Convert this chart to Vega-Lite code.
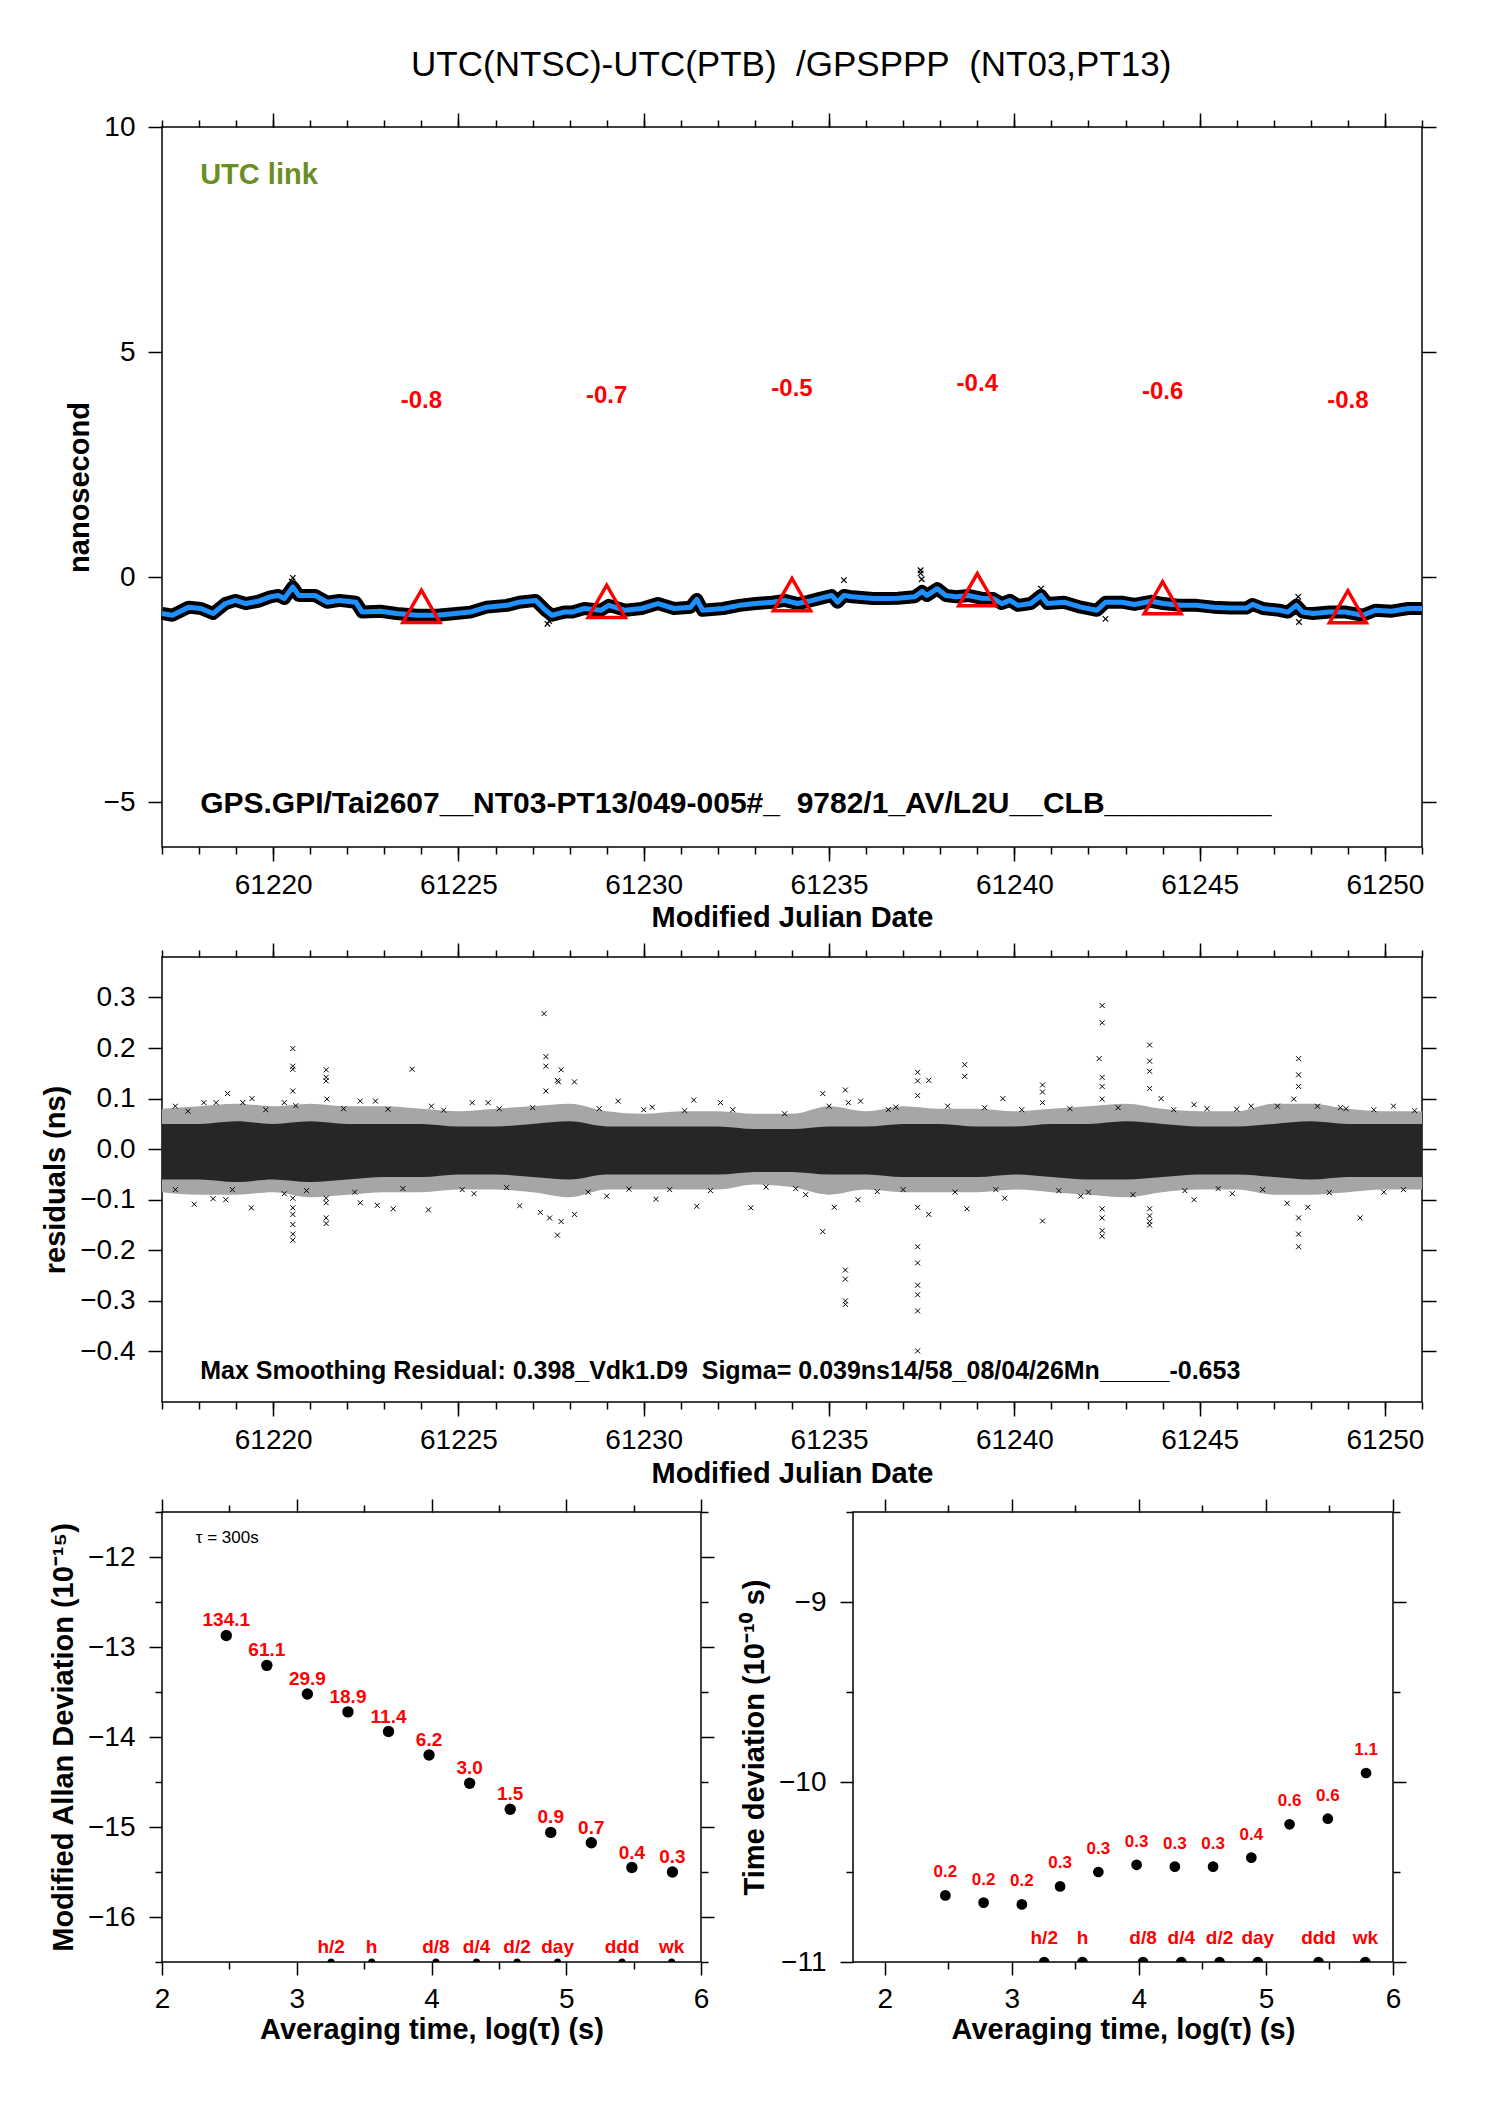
{
  "$schema": "https://vega.github.io/schema/vega-lite/v6.json",
  "padding": {"left": 40, "top": 47, "right": 5, "bottom": 5},
  "title": {"text": "UTC(NTSC)-UTC(PTB)\u00a0\u00a0/GPSPPP\u00a0\u00a0(NT03,PT13)", "fontSize": 35, "fontWeight": "normal", "font": "Liberation Sans", "color": "black", "anchor": "middle", "dx": 52, "offset": 29},
  "config": {
    "font": "Liberation Sans",
    "view": {"stroke": "black", "strokeWidth": 1.5},
    "axis": {"domain": false, "grid": false, "labelFont": "Liberation Sans", "labelFontSize": 28, "labelColor": "black", "labelFlush": false, "labelOverlap": false, "tickColor": "black", "tickWidth": 1.5, "titleFont": "Liberation Sans", "titleFontSize": 29, "titleFontWeight": "bold", "titleColor": "black"}
  },
  "datasets": {
    "smooth": [
      {"t": 61217.0, "v": -0.81}, {"t": 61217.28, "v": -0.85}, {"t": 61217.72, "v": -0.67}, {"t": 61218.05, "v": -0.7},
      {"t": 61218.38, "v": -0.81}, {"t": 61218.71, "v": -0.59}, {"t": 61218.98, "v": -0.52}, {"t": 61219.26, "v": -0.59},
      {"t": 61219.59, "v": -0.54}, {"t": 61219.92, "v": -0.44}, {"t": 61220.14, "v": -0.41}, {"t": 61220.3, "v": -0.48},
      {"t": 61220.53, "v": -0.22}, {"t": 61220.69, "v": -0.41}, {"t": 61221.13, "v": -0.41}, {"t": 61221.46, "v": -0.56},
      {"t": 61221.79, "v": -0.52}, {"t": 61222.23, "v": -0.56}, {"t": 61222.4, "v": -0.78}, {"t": 61222.89, "v": -0.76},
      {"t": 61223.33, "v": -0.81}, {"t": 61223.88, "v": -0.85}, {"t": 61224.43, "v": -0.85}, {"t": 61225.32, "v": -0.78},
      {"t": 61225.76, "v": -0.67}, {"t": 61226.31, "v": -0.63}, {"t": 61226.64, "v": -0.56}, {"t": 61227.08, "v": -0.52},
      {"t": 61227.35, "v": -0.74}, {"t": 61227.52, "v": -0.85}, {"t": 61227.85, "v": -0.78}, {"t": 61228.07, "v": -0.78},
      {"t": 61228.4, "v": -0.7}, {"t": 61228.84, "v": -0.74}, {"t": 61229.06, "v": -0.63}, {"t": 61229.5, "v": -0.74},
      {"t": 61229.94, "v": -0.7}, {"t": 61230.38, "v": -0.59}, {"t": 61230.82, "v": -0.7}, {"t": 61231.26, "v": -0.67},
      {"t": 61231.43, "v": -0.5}, {"t": 61231.59, "v": -0.74}, {"t": 61232.14, "v": -0.7}, {"t": 61232.58, "v": -0.63},
      {"t": 61233.02, "v": -0.59}, {"t": 61233.47, "v": -0.56}, {"t": 61233.8, "v": -0.52}, {"t": 61234.15, "v": -0.59},
      {"t": 61234.45, "v": -0.54}, {"t": 61234.73, "v": -0.48}, {"t": 61235.07, "v": -0.41}, {"t": 61235.23, "v": -0.56},
      {"t": 61235.4, "v": -0.41}, {"t": 61235.63, "v": -0.44}, {"t": 61236.19, "v": -0.48}, {"t": 61236.52, "v": -0.48},
      {"t": 61236.86, "v": -0.47}, {"t": 61237.31, "v": -0.44}, {"t": 61237.51, "v": -0.32}, {"t": 61237.64, "v": -0.41},
      {"t": 61237.92, "v": -0.26}, {"t": 61238.15, "v": -0.41}, {"t": 61238.43, "v": -0.44}, {"t": 61238.76, "v": -0.41},
      {"t": 61239.1, "v": -0.47}, {"t": 61239.43, "v": -0.48}, {"t": 61239.66, "v": -0.59}, {"t": 61239.88, "v": -0.52},
      {"t": 61240.1, "v": -0.63}, {"t": 61240.44, "v": -0.59}, {"t": 61240.72, "v": -0.41}, {"t": 61240.89, "v": -0.59},
      {"t": 61241.34, "v": -0.56}, {"t": 61241.79, "v": -0.67}, {"t": 61242.23, "v": -0.74}, {"t": 61242.46, "v": -0.56},
      {"t": 61242.9, "v": -0.56}, {"t": 61243.24, "v": -0.61}, {"t": 61243.69, "v": -0.54}, {"t": 61244.02, "v": -0.59},
      {"t": 61244.47, "v": -0.63}, {"t": 61244.92, "v": -0.63}, {"t": 61245.37, "v": -0.67}, {"t": 61245.82, "v": -0.69},
      {"t": 61246.26, "v": -0.69}, {"t": 61246.43, "v": -0.61}, {"t": 61246.71, "v": -0.7}, {"t": 61247.16, "v": -0.74},
      {"t": 61247.38, "v": -0.78}, {"t": 61247.61, "v": -0.63}, {"t": 61247.78, "v": -0.78}, {"t": 61248.06, "v": -0.81},
      {"t": 61248.5, "v": -0.78}, {"t": 61248.95, "v": -0.78}, {"t": 61249.4, "v": -0.85}, {"t": 61249.74, "v": -0.74},
      {"t": 61250.18, "v": -0.76}, {"t": 61250.63, "v": -0.7}, {"t": 61251.0, "v": -0.7}
    ],
    "raw": [
      {"t": 61220.53, "v": -0.02}, {"t": 61220.5, "v": -0.1}, {"t": 61227.4, "v": -1.04}, {"t": 61227.45, "v": -0.98},
      {"t": 61235.4, "v": -0.07}, {"t": 61237.47, "v": 0.15}, {"t": 61237.47, "v": 0.08}, {"t": 61237.5, "v": -0.05},
      {"t": 61242.46, "v": -0.93}, {"t": 61247.66, "v": -0.44}, {"t": 61247.68, "v": -1.0}, {"t": 61240.72, "v": -0.26}
    ],
    "tri": [
      {"t": 61224, "v": -0.77, "lab": "-0.8"}, {"t": 61229, "v": -0.66, "lab": "-0.7"}, {"t": 61234, "v": -0.51, "lab": "-0.5"},
      {"t": 61239, "v": -0.4, "lab": "-0.4"}, {"t": 61244, "v": -0.58, "lab": "-0.6"}, {"t": 61249, "v": -0.78, "lab": "-0.8"}
    ],
    "band": [
      {"t": 61217, "a": -0.06, "b": 0.05, "c": -0.085, "d": 0.08}, {"t": 61218, "a": -0.06, "b": 0.05, "c": -0.09, "d": 0.085},
      {"t": 61219, "a": -0.065, "b": 0.055, "c": -0.09, "d": 0.09}, {"t": 61220, "a": -0.06, "b": 0.05, "c": -0.085, "d": 0.085},
      {"t": 61221, "a": -0.065, "b": 0.055, "c": -0.095, "d": 0.09}, {"t": 61222, "a": -0.06, "b": 0.05, "c": -0.09, "d": 0.085},
      {"t": 61223, "a": -0.055, "b": 0.05, "c": -0.085, "d": 0.085}, {"t": 61224, "a": -0.055, "b": 0.05, "c": -0.085, "d": 0.08},
      {"t": 61225, "a": -0.05, "b": 0.045, "c": -0.08, "d": 0.075}, {"t": 61226, "a": -0.05, "b": 0.045, "c": -0.08, "d": 0.08},
      {"t": 61227, "a": -0.055, "b": 0.05, "c": -0.085, "d": 0.085}, {"t": 61228, "a": -0.06, "b": 0.055, "c": -0.095, "d": 0.09},
      {"t": 61229, "a": -0.05, "b": 0.045, "c": -0.08, "d": 0.075}, {"t": 61230, "a": -0.05, "b": 0.045, "c": -0.08, "d": 0.07},
      {"t": 61231, "a": -0.05, "b": 0.045, "c": -0.08, "d": 0.075}, {"t": 61232, "a": -0.05, "b": 0.045, "c": -0.08, "d": 0.075},
      {"t": 61233, "a": -0.045, "b": 0.04, "c": -0.07, "d": 0.07}, {"t": 61234, "a": -0.045, "b": 0.04, "c": -0.075, "d": 0.07},
      {"t": 61235, "a": -0.05, "b": 0.045, "c": -0.09, "d": 0.085}, {"t": 61236, "a": -0.05, "b": 0.045, "c": -0.08, "d": 0.075},
      {"t": 61237, "a": -0.055, "b": 0.05, "c": -0.085, "d": 0.085}, {"t": 61238, "a": -0.055, "b": 0.05, "c": -0.085, "d": 0.08},
      {"t": 61239, "a": -0.055, "b": 0.045, "c": -0.085, "d": 0.08}, {"t": 61240, "a": -0.05, "b": 0.045, "c": -0.08, "d": 0.075},
      {"t": 61241, "a": -0.055, "b": 0.05, "c": -0.085, "d": 0.08}, {"t": 61242, "a": -0.06, "b": 0.05, "c": -0.09, "d": 0.085},
      {"t": 61243, "a": -0.06, "b": 0.055, "c": -0.095, "d": 0.09}, {"t": 61244, "a": -0.055, "b": 0.05, "c": -0.085, "d": 0.08},
      {"t": 61245, "a": -0.05, "b": 0.045, "c": -0.08, "d": 0.075}, {"t": 61246, "a": -0.05, "b": 0.045, "c": -0.08, "d": 0.075},
      {"t": 61247, "a": -0.055, "b": 0.05, "c": -0.09, "d": 0.09}, {"t": 61248, "a": -0.06, "b": 0.055, "c": -0.09, "d": 0.09},
      {"t": 61249, "a": -0.055, "b": 0.05, "c": -0.085, "d": 0.08}, {"t": 61250, "a": -0.055, "b": 0.05, "c": -0.08, "d": 0.075},
      {"t": 61251, "a": -0.055, "b": 0.05, "c": -0.08, "d": 0.075}
    ],
    "resid": [
      {"t": 61217.36, "r": 0.085}, {"t": 61218.13, "r": 0.092}, {"t": 61218.46, "r": 0.092}, {"t": 61218.77, "r": 0.11},
      {"t": 61219.18, "r": 0.092}, {"t": 61219.43, "r": 0.1}, {"t": 61220.3, "r": 0.092}, {"t": 61220.53, "r": 0.199},
      {"t": 61220.53, "r": 0.164}, {"t": 61220.53, "r": 0.158}, {"t": 61220.53, "r": 0.115}, {"t": 61220.61, "r": 0.086},
      {"t": 61221.43, "r": 0.157}, {"t": 61221.43, "r": 0.142}, {"t": 61221.43, "r": 0.135}, {"t": 61221.45, "r": 0.099},
      {"t": 61222.35, "r": 0.095}, {"t": 61222.76, "r": 0.095}, {"t": 61223.75, "r": 0.158}, {"t": 61224.27, "r": 0.085},
      {"t": 61225.37, "r": 0.092}, {"t": 61225.8, "r": 0.092}, {"t": 61227.31, "r": 0.268}, {"t": 61227.36, "r": 0.183},
      {"t": 61227.36, "r": 0.164}, {"t": 61227.36, "r": 0.115}, {"t": 61227.67, "r": 0.136}, {"t": 61227.7, "r": 0.133},
      {"t": 61227.77, "r": 0.157}, {"t": 61228.13, "r": 0.133}, {"t": 61229.31, "r": 0.095}, {"t": 61230.23, "r": 0.083},
      {"t": 61231.35, "r": 0.097}, {"t": 61232.07, "r": 0.092}, {"t": 61234.83, "r": 0.11}, {"t": 61235.44, "r": 0.117},
      {"t": 61235.52, "r": 0.092}, {"t": 61235.85, "r": 0.095}, {"t": 61236.8, "r": 0.083}, {"t": 61237.39, "r": 0.152},
      {"t": 61237.39, "r": 0.135}, {"t": 61237.39, "r": 0.106}, {"t": 61237.69, "r": 0.136}, {"t": 61238.66, "r": 0.167},
      {"t": 61238.66, "r": 0.144}, {"t": 61239.69, "r": 0.1}, {"t": 61240.76, "r": 0.127}, {"t": 61240.76, "r": 0.113},
      {"t": 61240.76, "r": 0.092}, {"t": 61242.37, "r": 0.284}, {"t": 61242.37, "r": 0.25}, {"t": 61242.29, "r": 0.179},
      {"t": 61242.37, "r": 0.142}, {"t": 61242.37, "r": 0.124}, {"t": 61242.37, "r": 0.099}, {"t": 61243.65, "r": 0.206},
      {"t": 61243.65, "r": 0.174}, {"t": 61243.65, "r": 0.154}, {"t": 61243.65, "r": 0.12}, {"t": 61243.96, "r": 0.1},
      {"t": 61244.85, "r": 0.088}, {"t": 61246.39, "r": 0.085}, {"t": 61247.67, "r": 0.179}, {"t": 61247.67, "r": 0.147},
      {"t": 61247.67, "r": 0.124}, {"t": 61247.54, "r": 0.099}, {"t": 61248.18, "r": 0.085}, {"t": 61248.95, "r": 0.08},
      {"t": 61250.23, "r": 0.085},
      {"t": 61217.36, "r": -0.08}, {"t": 61217.87, "r": -0.109}, {"t": 61218.38, "r": -0.098}, {"t": 61218.72, "r": -0.1},
      {"t": 61219.41, "r": -0.116}, {"t": 61220.3, "r": -0.088}, {"t": 61220.53, "r": -0.097}, {"t": 61220.53, "r": -0.116},
      {"t": 61220.53, "r": -0.129}, {"t": 61220.53, "r": -0.149}, {"t": 61220.53, "r": -0.168}, {"t": 61220.53, "r": -0.18},
      {"t": 61221.43, "r": -0.097}, {"t": 61221.43, "r": -0.106}, {"t": 61221.43, "r": -0.136}, {"t": 61221.43, "r": -0.147},
      {"t": 61222.35, "r": -0.106}, {"t": 61222.81, "r": -0.111}, {"t": 61223.24, "r": -0.118}, {"t": 61224.19, "r": -0.12},
      {"t": 61225.42, "r": -0.088}, {"t": 61226.65, "r": -0.112}, {"t": 61227.21, "r": -0.125}, {"t": 61227.46, "r": -0.136},
      {"t": 61227.67, "r": -0.17}, {"t": 61227.77, "r": -0.143}, {"t": 61228.13, "r": -0.129}, {"t": 61229.0, "r": -0.093},
      {"t": 61230.33, "r": -0.099}, {"t": 61231.43, "r": -0.113}, {"t": 61232.89, "r": -0.116}, {"t": 61234.37, "r": -0.09},
      {"t": 61234.83, "r": -0.163}, {"t": 61235.14, "r": -0.115}, {"t": 61235.44, "r": -0.239}, {"t": 61235.44, "r": -0.257},
      {"t": 61235.44, "r": -0.3}, {"t": 61235.44, "r": -0.307}, {"t": 61235.78, "r": -0.1}, {"t": 61237.39, "r": -0.193},
      {"t": 61237.39, "r": -0.225}, {"t": 61237.39, "r": -0.269}, {"t": 61237.39, "r": -0.288}, {"t": 61237.39, "r": -0.32},
      {"t": 61237.39, "r": -0.399}, {"t": 61237.39, "r": -0.115}, {"t": 61237.69, "r": -0.129}, {"t": 61238.72, "r": -0.118},
      {"t": 61239.74, "r": -0.097}, {"t": 61240.76, "r": -0.142}, {"t": 61241.79, "r": -0.093}, {"t": 61242.37, "r": -0.118},
      {"t": 61242.37, "r": -0.136}, {"t": 61242.37, "r": -0.161}, {"t": 61242.37, "r": -0.172}, {"t": 61243.65, "r": -0.118},
      {"t": 61243.65, "r": -0.132}, {"t": 61243.65, "r": -0.143}, {"t": 61243.65, "r": -0.15}, {"t": 61244.85, "r": -0.1},
      {"t": 61245.88, "r": -0.088}, {"t": 61247.36, "r": -0.107}, {"t": 61247.67, "r": -0.136}, {"t": 61247.67, "r": -0.168},
      {"t": 61247.67, "r": -0.193}, {"t": 61247.92, "r": -0.115}, {"t": 61249.33, "r": -0.136}, {"t": 61249.97, "r": -0.085},
      {"t": 61217.7, "r": 0.075}, {"t": 61218.9, "r": -0.08}, {"t": 61219.8, "r": 0.078}, {"t": 61220.9, "r": -0.082},
      {"t": 61221.9, "r": 0.08}, {"t": 61222.2, "r": -0.085}, {"t": 61223.1, "r": 0.079}, {"t": 61223.5, "r": -0.078},
      {"t": 61224.6, "r": 0.077}, {"t": 61225.1, "r": -0.08}, {"t": 61226.1, "r": 0.08}, {"t": 61226.3, "r": -0.076},
      {"t": 61227.0, "r": 0.082}, {"t": 61228.5, "r": -0.085}, {"t": 61228.8, "r": 0.08}, {"t": 61229.6, "r": -0.079},
      {"t": 61230.0, "r": 0.078}, {"t": 61230.7, "r": -0.08}, {"t": 61231.1, "r": 0.076}, {"t": 61231.8, "r": -0.082},
      {"t": 61232.4, "r": 0.078}, {"t": 61233.3, "r": -0.075}, {"t": 61233.8, "r": 0.07}, {"t": 61234.1, "r": -0.078},
      {"t": 61235.0, "r": 0.085}, {"t": 61236.3, "r": -0.084}, {"t": 61236.6, "r": 0.078}, {"t": 61237.0, "r": -0.08},
      {"t": 61238.2, "r": 0.085}, {"t": 61238.4, "r": -0.085}, {"t": 61239.2, "r": 0.082}, {"t": 61239.5, "r": -0.08},
      {"t": 61240.2, "r": 0.078}, {"t": 61241.2, "r": -0.082}, {"t": 61241.5, "r": 0.08}, {"t": 61242.0, "r": -0.085},
      {"t": 61242.8, "r": 0.082}, {"t": 61243.2, "r": -0.09}, {"t": 61244.3, "r": 0.078}, {"t": 61244.6, "r": -0.082},
      {"t": 61245.2, "r": 0.08}, {"t": 61245.5, "r": -0.078}, {"t": 61246.0, "r": 0.079}, {"t": 61246.7, "r": -0.08},
      {"t": 61247.1, "r": 0.085}, {"t": 61248.5, "r": -0.086}, {"t": 61248.8, "r": 0.082}, {"t": 61249.7, "r": 0.078},
      {"t": 61250.5, "r": -0.08}, {"t": 61250.8, "r": 0.076}
    ],
    "adev": [
      {"lt": 2.477, "v": -12.872, "lab": "134.1"}, {"lt": 2.778, "v": -13.204, "lab": "61.1"}, {"lt": 3.079, "v": -13.523, "lab": "29.9"},
      {"lt": 3.38, "v": -13.721, "lab": "18.9"}, {"lt": 3.681, "v": -13.939, "lab": "11.4"}, {"lt": 3.982, "v": -14.2, "lab": "6.2"},
      {"lt": 4.283, "v": -14.514, "lab": "3.0"}, {"lt": 4.584, "v": -14.803, "lab": "1.5"}, {"lt": 4.885, "v": -15.06, "lab": "0.9"},
      {"lt": 5.186, "v": -15.175, "lab": "0.7"}, {"lt": 5.487, "v": -15.45, "lab": "0.4"}, {"lt": 5.788, "v": -15.5, "lab": "0.3"}
    ],
    "tdev": [
      {"lt": 2.477, "v": -10.63, "lab": "0.2"}, {"lt": 2.778, "v": -10.67, "lab": "0.2"}, {"lt": 3.079, "v": -10.68, "lab": "0.2"},
      {"lt": 3.38, "v": -10.58, "lab": "0.3"}, {"lt": 3.681, "v": -10.5, "lab": "0.3"}, {"lt": 3.982, "v": -10.46, "lab": "0.3"},
      {"lt": 4.283, "v": -10.47, "lab": "0.3"}, {"lt": 4.584, "v": -10.47, "lab": "0.3"}, {"lt": 4.885, "v": -10.42, "lab": "0.4"},
      {"lt": 5.186, "v": -10.235, "lab": "0.6"}, {"lt": 5.487, "v": -10.204, "lab": "0.6"}, {"lt": 5.788, "v": -9.95, "lab": "1.1"}
    ],
    "marks": [
      {"lt": 3.255, "m": "h/2"}, {"lt": 3.556, "m": "h"}, {"lt": 4.033, "m": "d/8"}, {"lt": 4.334, "m": "d/4"},
      {"lt": 4.635, "m": "d/2"}, {"lt": 4.936, "m": "day"}, {"lt": 5.414, "m": "ddd"}, {"lt": 5.782, "m": "wk"}
    ]
  },
  "vconcat": [
    {
      "width": 1260,
      "height": 720,
      "resolve": {"axis": {"x": "independent", "y": "independent"}},
      "layer": [
        {
          "data": {"name": "smooth"},
          "mark": {"type": "line", "color": "black", "strokeWidth": 13, "strokeJoin": "round"},
          "encoding": {
            "x": {"field": "t", "type": "quantitative", "scale": {"domain": [61217, 61251], "nice": false, "zero": false},
              "axis": {"orient": "bottom", "values": [61220, 61225, 61230, 61235, 61240, 61245, 61250], "format": "d", "tickSize": 14, "labelPadding": 10, "title": "Modified Julian Date", "titlePadding": 4}},
            "y": {"field": "v", "type": "quantitative", "scale": {"domain": [-6, 10], "nice": false, "zero": false},
              "axis": {"orient": "left", "values": [-5, 0, 5, 10], "tickSize": 14, "labelPadding": 13, "title": "nanosecond", "titlePadding": 9}}
          }
        },
        {
          "data": {"name": "raw"},
          "mark": {"type": "point", "shape": "M-1,-1L1,1M-1,1L1,-1", "filled": false, "color": "black", "strokeWidth": 1.2, "size": 30, "opacity": 1},
          "encoding": {
            "x": {"field": "t", "type": "quantitative", "axis": {"orient": "top", "values": [61220, 61225, 61230, 61235, 61240, 61245, 61250], "tickSize": 14, "labels": false, "title": null}},
            "y": {"field": "v", "type": "quantitative", "axis": {"orient": "right", "values": [-5, 0, 5, 10], "tickSize": 14, "labels": false, "title": null}}
          }
        },
        {
          "data": {"name": "smooth"},
          "mark": {"type": "line", "color": "#1e90ff", "strokeWidth": 5, "strokeJoin": "round"},
          "encoding": {
            "x": {"field": "t", "type": "quantitative", "axis": {"orient": "bottom", "values": [61217, 61218, 61219, 61220, 61221, 61222, 61223, 61224, 61225, 61226, 61227, 61228, 61229, 61230, 61231, 61232, 61233, 61234, 61235, 61236, 61237, 61238, 61239, 61240, 61241, 61242, 61243, 61244, 61245, 61246, 61247, 61248, 61249, 61250, 61251], "tickSize": 7, "labels": false, "title": null}},
            "y": {"field": "v", "type": "quantitative", "axis": null}
          }
        },
        {
          "data": {"name": "tri"},
          "mark": {"type": "point", "shape": "M-1,0.58L0,-1.16L1,0.58Z", "filled": false, "color": "red", "strokeWidth": 3.5, "size": 1369, "opacity": 1},
          "encoding": {
            "x": {"field": "t", "type": "quantitative", "axis": {"orient": "top", "values": [61217, 61218, 61219, 61220, 61221, 61222, 61223, 61224, 61225, 61226, 61227, 61228, 61229, 61230, 61231, 61232, 61233, 61234, 61235, 61236, 61237, 61238, 61239, 61240, 61241, 61242, 61243, 61244, 61245, 61246, 61247, 61248, 61249, 61250, 61251], "tickSize": 7, "labels": false, "title": null}},
            "y": {"field": "v", "type": "quantitative", "axis": null}
          }
        },
        {
          "data": {"name": "tri"},
          "mark": {"type": "text", "color": "red", "font": "Liberation Sans", "fontSize": 24, "fontWeight": "bold", "align": "center", "baseline": "middle", "dy": -211},
          "encoding": {
            "x": {"field": "t", "type": "quantitative", "axis": null},
            "y": {"field": "v", "type": "quantitative", "axis": null},
            "text": {"field": "lab"}
          }
        },
        {
          "data": {"values": [{"txt": "UTC link"}]},
          "mark": {"type": "text", "color": "#6b8e23", "font": "Liberation Sans", "fontSize": 29, "fontWeight": "bold", "align": "left", "baseline": "alphabetic"},
          "encoding": {
            "x": {"datum": 61218.03, "type": "quantitative", "axis": null},
            "y": {"datum": 8.73, "type": "quantitative", "axis": null},
            "text": {"field": "txt"}
          }
        },
        {
          "data": {"values": [{"txt": "GPS.GPI/Tai2607__NT03-PT13/049-005#_\u00a0\u00a09782/1_AV/L2U__CLB__________"}]},
          "mark": {"type": "text", "color": "black", "font": "Liberation Sans", "fontSize": 30, "fontWeight": "bold", "align": "left", "baseline": "alphabetic"},
          "encoding": {
            "x": {"datum": 61218.03, "type": "quantitative", "axis": null},
            "y": {"datum": -5.25, "type": "quantitative", "axis": null},
            "text": {"field": "txt"}
          }
        }
      ]
    },
    {
      "width": 1260,
      "height": 445,
      "resolve": {"axis": {"x": "independent", "y": "independent"}},
      "layer": [
        {
          "data": {"name": "band"},
          "mark": {"type": "area", "color": "#a6a6a6", "interpolate": "monotone"},
          "encoding": {
            "x": {"field": "t", "type": "quantitative", "scale": {"domain": [61217, 61251], "nice": false, "zero": false},
              "axis": {"orient": "bottom", "values": [61220, 61225, 61230, 61235, 61240, 61245, 61250], "format": "d", "tickSize": 14, "labelPadding": 10, "title": "Modified Julian Date", "titlePadding": 5}},
            "y": {"field": "c", "type": "quantitative", "scale": {"domain": [-0.5, 0.38], "nice": false, "zero": false},
              "axis": {"orient": "left", "values": [-0.4, -0.3, -0.2, -0.1, 0, 0.1, 0.2, 0.3], "format": ".1f", "tickSize": 14, "labelPadding": 13, "title": "residuals (ns)", "titlePadding": 9}},
            "y2": {"field": "d"}
          }
        },
        {
          "data": {"name": "band"},
          "mark": {"type": "area", "color": "#262626", "interpolate": "monotone"},
          "encoding": {
            "x": {"field": "t", "type": "quantitative", "axis": {"orient": "top", "values": [61220, 61225, 61230, 61235, 61240, 61245, 61250], "tickSize": 14, "labels": false, "title": null}},
            "y": {"field": "a", "type": "quantitative", "axis": {"orient": "right", "values": [-0.4, -0.3, -0.2, -0.1, 0, 0.1, 0.2, 0.3], "tickSize": 14, "labels": false, "title": null}},
            "y2": {"field": "b"}
          }
        },
        {
          "data": {"name": "resid"},
          "mark": {"type": "point", "shape": "M-1,-1L1,1M-1,1L1,-1", "filled": false, "color": "black", "strokeWidth": 1, "size": 25, "opacity": 1},
          "encoding": {
            "x": {"field": "t", "type": "quantitative", "axis": {"orient": "bottom", "values": [61217, 61218, 61219, 61220, 61221, 61222, 61223, 61224, 61225, 61226, 61227, 61228, 61229, 61230, 61231, 61232, 61233, 61234, 61235, 61236, 61237, 61238, 61239, 61240, 61241, 61242, 61243, 61244, 61245, 61246, 61247, 61248, 61249, 61250, 61251], "tickSize": 7, "labels": false, "title": null}},
            "y": {"field": "r", "type": "quantitative", "axis": null}
          }
        },
        {
          "data": {"values": [{"txt": "Max Smoothing Residual: 0.398_Vdk1.D9\u00a0\u00a0Sigma= 0.039ns14/58_08/04/26Mn_____-0.653"}]},
          "mark": {"type": "text", "color": "black", "font": "Liberation Sans", "fontSize": 25, "fontWeight": "bold", "align": "left", "baseline": "alphabetic"},
          "encoding": {
            "x": {"datum": 61218.03, "type": "quantitative", "axis": {"orient": "top", "values": [61217, 61218, 61219, 61220, 61221, 61222, 61223, 61224, 61225, 61226, 61227, 61228, 61229, 61230, 61231, 61232, 61233, 61234, 61235, 61236, 61237, 61238, 61239, 61240, 61241, 61242, 61243, 61244, 61245, 61246, 61247, 61248, 61249, 61250, 61251], "tickSize": 7, "labels": false, "title": null}},
            "y": {"datum": -0.455, "type": "quantitative", "axis": null},
            "text": {"field": "txt"}
          }
        }
      ]
    },
    {
      "spacing": 152,
      "bounds": "flush",
      "hconcat": [
        {
          "width": 539,
          "height": 450,
          "resolve": {"axis": {"x": "independent", "y": "independent"}},
          "layer": [
            {
              "data": {"name": "adev"},
              "mark": {"type": "point", "shape": "circle", "filled": true, "color": "black", "size": 130, "opacity": 1},
              "encoding": {
                "x": {"field": "lt", "type": "quantitative", "scale": {"domain": [2, 6], "nice": false, "zero": false},
                  "axis": {"orient": "bottom", "values": [2, 3, 4, 5, 6], "format": "d", "tickSize": 13, "labelPadding": 10, "title": "Averaging time, log(τ) (s)", "titlePadding": 2}},
                "y": {"field": "v", "type": "quantitative", "scale": {"domain": [-16.5, -11.5], "nice": false, "zero": false},
                  "axis": {"orient": "left", "values": [-16, -15, -14, -13, -12], "format": "d", "tickSize": 13, "labelPadding": 14, "title": "Modified Allan Deviation (10⁻¹⁵)", "titlePadding": 9}}
              }
            },
            {
              "data": {"name": "adev"},
              "mark": {"type": "text", "color": "red", "font": "Liberation Sans", "fontSize": 19, "fontWeight": "bold", "align": "center", "baseline": "alphabetic", "dy": -9},
              "encoding": {
                "x": {"field": "lt", "type": "quantitative", "axis": {"orient": "top", "values": [2, 3, 4, 5, 6], "tickSize": 13, "labels": false, "title": null}},
                "y": {"field": "v", "type": "quantitative", "axis": {"orient": "right", "values": [-16, -15, -14, -13, -12], "tickSize": 13, "labels": false, "title": null}},
                "text": {"field": "lab"}
              }
            },
            {
              "data": {"name": "marks"},
              "mark": {"type": "point", "shape": "circle", "filled": true, "color": "black", "size": 50, "opacity": 1, "clip": true},
              "encoding": {
                "x": {"field": "lt", "type": "quantitative", "axis": {"orient": "bottom", "values": [2.5, 3.5, 4.5, 5.5], "tickSize": 7, "labels": false, "title": null}},
                "y": {"datum": -16.5, "type": "quantitative", "axis": {"orient": "left", "values": [-16.5, -15.5, -14.5, -13.5, -12.5, -11.5], "tickSize": 7, "labels": false, "title": null}}
              }
            },
            {
              "data": {"name": "marks"},
              "mark": {"type": "text", "color": "red", "font": "Liberation Sans", "fontSize": 19, "fontWeight": "bold", "align": "center", "baseline": "alphabetic", "dy": -9},
              "encoding": {
                "x": {"field": "lt", "type": "quantitative", "axis": {"orient": "top", "values": [2.5, 3.5, 4.5, 5.5], "tickSize": 7, "labels": false, "title": null}},
                "y": {"datum": -16.5, "type": "quantitative", "axis": {"orient": "right", "values": [-16.5, -15.5, -14.5, -13.5, -12.5, -11.5], "tickSize": 7, "labels": false, "title": null}},
                "text": {"field": "m"}
              }
            },
            {
              "data": {"values": [{"txt": "τ = 300s"}]},
              "mark": {"type": "text", "color": "black", "font": "Liberation Sans", "fontSize": 17, "align": "left", "baseline": "alphabetic"},
              "encoding": {
                "x": {"datum": 2.25, "type": "quantitative", "axis": null},
                "y": {"datum": -11.84, "type": "quantitative", "axis": null},
                "text": {"field": "txt"}
              }
            }
          ]
        },
        {
          "width": 540,
          "height": 450,
          "resolve": {"axis": {"x": "independent", "y": "independent"}},
          "layer": [
            {
              "data": {"name": "tdev"},
              "mark": {"type": "point", "shape": "circle", "filled": true, "color": "black", "size": 115, "opacity": 1},
              "encoding": {
                "x": {"field": "lt", "type": "quantitative", "scale": {"domain": [1.75, 6], "nice": false, "zero": false},
                  "axis": {"orient": "bottom", "values": [2, 3, 4, 5, 6], "format": "d", "tickSize": 13, "labelPadding": 10, "title": "Averaging time, log(τ) (s)", "titlePadding": 2}},
                "y": {"field": "v", "type": "quantitative", "scale": {"domain": [-11, -8.5], "nice": false, "zero": false},
                  "axis": {"orient": "left", "values": [-11, -10, -9], "format": "d", "tickSize": 13, "labelPadding": 14, "title": "Time deviation (10⁻¹⁰ s)", "titlePadding": 9}}
              }
            },
            {
              "data": {"name": "tdev"},
              "mark": {"type": "text", "color": "red", "font": "Liberation Sans", "fontSize": 17, "fontWeight": "bold", "align": "center", "baseline": "alphabetic", "dy": -18},
              "encoding": {
                "x": {"field": "lt", "type": "quantitative", "axis": {"orient": "top", "values": [2, 3, 4, 5, 6], "tickSize": 13, "labels": false, "title": null}},
                "y": {"field": "v", "type": "quantitative", "axis": {"orient": "right", "values": [-11, -10, -9], "tickSize": 13, "labels": false, "title": null}},
                "text": {"field": "lab"}
              }
            },
            {
              "data": {"name": "marks"},
              "mark": {"type": "point", "shape": "circle", "filled": true, "color": "black", "size": 115, "opacity": 1, "clip": true},
              "encoding": {
                "x": {"field": "lt", "type": "quantitative", "axis": {"orient": "bottom", "values": [2.5, 3.5, 4.5, 5.5], "tickSize": 7, "labels": false, "title": null}},
                "y": {"datum": -11, "type": "quantitative", "axis": {"orient": "left", "values": [-10.5, -9.5, -8.5], "tickSize": 7, "labels": false, "title": null}}
              }
            },
            {
              "data": {"name": "marks"},
              "mark": {"type": "text", "color": "red", "font": "Liberation Sans", "fontSize": 19, "fontWeight": "bold", "align": "center", "baseline": "alphabetic", "dy": -18},
              "encoding": {
                "x": {"field": "lt", "type": "quantitative", "axis": {"orient": "top", "values": [2.5, 3.5, 4.5, 5.5], "tickSize": 7, "labels": false, "title": null}},
                "y": {"datum": -11, "type": "quantitative", "axis": {"orient": "right", "values": [-10.5, -9.5, -8.5], "tickSize": 7, "labels": false, "title": null}},
                "text": {"field": "m"}
              }
            }
          ]
        }
      ]
    }
  ],
  "spacing": 110,
  "bounds": "flush"
}
